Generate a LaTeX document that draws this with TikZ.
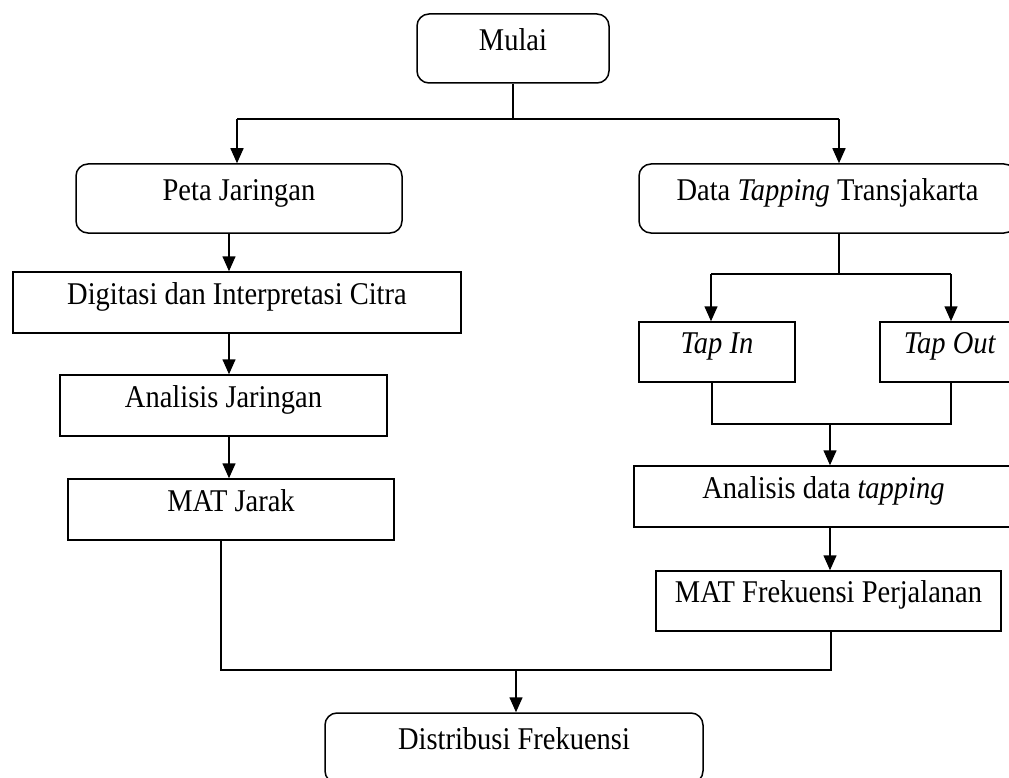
\documentclass[tikz,border=0pt]{standalone}
\usepackage{fontspec}
\usepackage{graphicx}
\setmainfont{Liberation Serif}
\usetikzlibrary{arrows.meta}
\newcommand{\tallt}[1]{\scalebox{1}[1.11]{#1}}
\begin{document}
\begin{tikzpicture}[x=1pt,y=-1pt,
  every node/.style={font=\fontsize{28.5}{34}\selectfont},
  box/.style={draw, line width=1.5pt, inner sep=0pt, text height=0.7em, text depth=0.35em},
  rbox/.style={box, rounded corners=12pt},
  conn/.style={line width=1.5pt},
  arr/.style={conn, -{Triangle[width=13pt,length=15pt]}}]
\path[use as bounding box] (0,0) rectangle (1009,778);
\clip (0,0) rectangle (1009,778);
% nodes
\node[rbox, minimum width=192pt, minimum height=69pt] (mulai) at (513,48.5) {\tallt{Mulai}};
\node[rbox, minimum width=326pt, minimum height=69pt] (peta) at (239,198.5) {\tallt{Peta Jaringan}};
\node[rbox, minimum width=377pt, minimum height=69pt] (data) at (827.5,198.5) {\tallt{Data \textit{Tapping} Transjakarta}};
\node[box, minimum width=448pt, minimum height=61pt] (digit) at (237,302.5) {\tallt{Digitasi dan Interpretasi Citra}};
\node[box, minimum width=327pt, minimum height=61pt] (anjar) at (223.5,405.5) {\tallt{Analisis Jaringan}};
\node[box, minimum width=326pt, minimum height=61pt] (matj) at (231,509.5) {\tallt{MAT Jarak}};
\node[box, minimum width=156pt, minimum height=60pt] (tapin) at (717,352) {\tallt{\textit{Tap In}}};
\node[box, minimum width=140pt, minimum height=60pt] (tapout) at (950,352) {\tallt{\textit{Tap Out}}};
\node[box, minimum width=379pt, minimum height=61pt] (anadata) at (823.5,496.5) {\tallt{Analisis data \textit{tapping}}};
\node[box, minimum width=345pt, minimum height=60pt] (matf) at (828.5,601) {\tallt{MAT Frekuensi Perjalanan}};
\node[rbox, minimum width=378pt, minimum height=70pt] (dist) at (514,748) {\tallt{Distribusi Frekuensi}};
% junction coordinates
\coordinate (j1) at (513,119);
\coordinate (jl) at (237,119);
\coordinate (jr) at (839,119);
\coordinate (cL) at (229,0);
\coordinate (t1) at (711,274);
\coordinate (t2) at (951,274);
\coordinate (u1) at (712,424);
\coordinate (u2) at (951,424);
\coordinate (u0) at (830,424);
\coordinate (m1) at (221,670);
\coordinate (m2) at (831,670);
\coordinate (m0) at (516,670);
% connectors
\draw[conn] (mulai.south) -- (j1);
\draw[conn] (jl) -- (jr);
\draw[arr] (jl) -- (jl |- peta.north);
\draw[arr] (jr) -- (jr |- data.north);
\draw[arr] (cL |- peta.south) -- (cL |- digit.north);
\draw[arr] (cL |- digit.south) -- (cL |- anjar.north);
\draw[arr] (cL |- anjar.south) -- (cL |- matj.north);
\draw[conn] (jr |- data.south) -- (jr |- t1);
\draw[conn] (t1) -- (t2);
\draw[arr] (t1) -- (t1 |- tapin.north);
\draw[arr] (t2) -- (t2 |- tapout.north);
\draw[conn] (u1 |- tapin.south) -- (u1) -- (u2) -- (u2 |- tapout.south);
\draw[arr] (u0) -- (u0 |- anadata.north);
\draw[arr] (u0 |- anadata.south) -- (u0 |- matf.north);
\draw[conn] (m1 |- matj.south) -- (m1) -- (m2) -- (m2 |- matf.south);
\draw[arr] (m0) -- (m0 |- dist.north);
\end{tikzpicture}
\end{document}
